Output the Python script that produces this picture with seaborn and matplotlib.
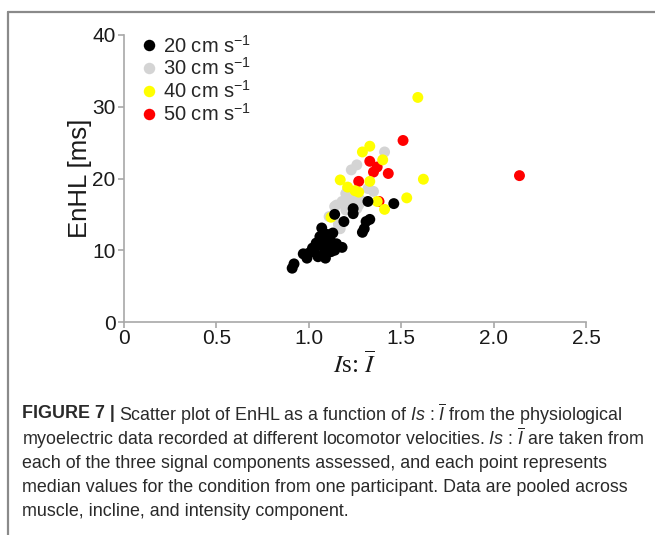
import matplotlib
matplotlib.use("Agg")
import numpy as np
import pandas as pd
import seaborn as sns
import matplotlib.pyplot as plt
from matplotlib.lines import Line2D

# Is:I ratio and EnHL (ms) per locomotor velocity
x20 = [0.91, 0.92, 0.97, 0.99, 1.00, 1.02, 1.03, 1.04, 1.05, 1.06, 1.07, 1.07,
       1.08, 1.09, 1.09, 1.10, 1.10, 1.11, 1.12, 1.12, 1.13, 1.14, 1.15, 1.16,
       1.18, 1.14, 1.19, 1.24, 1.24, 1.29, 1.30, 1.31, 1.33, 1.32, 1.46]
y20 = [7.5, 8.1, 9.5, 8.9, 9.6, 10.3, 9.8, 11.0, 9.1, 11.9, 13.1, 10.6,
       9.4, 8.9, 11.5, 10.3, 12.2, 11.0, 9.8, 11.2, 12.4, 10.0, 10.9, 10.5,
       10.4, 15.0, 14.0, 15.1, 15.8, 12.5, 13.0, 14.0, 14.3, 16.8, 16.5]

x30 = [1.11, 1.16, 1.17, 1.14, 1.15, 1.18, 1.20, 1.22, 1.24, 1.25, 1.26, 1.27,
       1.28, 1.26, 1.23, 1.26, 1.41, 1.32, 1.35, 1.20, 1.19, 1.21]
y30 = [14.7, 13.6, 13.0, 16.1, 16.3, 16.8, 17.9, 17.2, 17.2, 16.8, 15.8, 16.3,
       17.0, 17.9, 21.2, 21.9, 23.7, 18.6, 18.2, 15.6, 16.5, 18.4]

x40 = [1.59, 1.62, 1.53, 1.41, 1.37, 1.33, 1.29, 1.40, 1.17, 1.21, 1.25, 1.33,
       1.12, 1.27]
y40 = [31.3, 19.9, 17.3, 15.7, 16.8, 24.5, 23.7, 22.6, 19.8, 18.8, 18.3, 19.6,
       14.6, 18.1]

x50 = [1.51, 2.14, 1.43, 1.33, 1.37, 1.35, 1.27, 1.38]
y50 = [25.3, 20.4, 20.7, 22.4, 21.6, 20.9, 19.6, 16.8]

speed_labels = ["20 cm s$^{-1}$", "30 cm s$^{-1}$", "40 cm s$^{-1}$", "50 cm s$^{-1}$"]
speed_colors = ["#000000", "#d4d4d4", "#ffff00", "#ff0000"]

x_ticks = [0, 0.5, 1.0, 1.5, 2.0, 2.5]
x_ticklabels = ["0", "0.5", "1.0", "1.5", "2.0", "2.5"]
y_ticks = [0, 10, 20, 30, 40]

caption_lines = [
    r"Scatter plot of EnHL as a function of $\mathit{Is}$ : $\overline{\mathit{I}}$ from the physiological",
    r"myoelectric data recorded at different locomotor velocities. $\mathit{Is}$ : $\overline{\mathit{I}}$ are taken from",
    "each of the three signal components assessed, and each point represents",
    "median values for the condition from one participant. Data are pooled across",
    "muscle, incline, and intensity component.",
]

sns.set_style("ticks")
plt.rcParams["font.family"] = ["Liberation Sans", "DejaVu Sans"]
plt.rcParams.update({
    "mathtext.fontset": "custom",
    "mathtext.rm": "Liberation Sans",
    "mathtext.it": "Liberation Sans:italic",
    "mathtext.bf": "Liberation Sans:bold",
})

# long-format table, drawing order chosen so black sits on top
frames = []
for xs, ys, lab in [(x30, y30, speed_labels[1]), (x50, y50, speed_labels[3]),
                    (x40, y40, speed_labels[2]), (x20, y20, speed_labels[0])]:
    frames.append(pd.DataFrame({"ratio": xs, "enhl": ys, "speed": lab}))
df = pd.concat(frames, ignore_index=True)

W, H = 655, 535
fig = plt.figure(figsize=(W / 100, H / 100), dpi=100)
ax = fig.add_axes([124 / W, 1 - 322 / H, 462 / W, 287 / H])

sns.scatterplot(data=df, x="ratio", y="enhl", hue="speed", hue_order=speed_labels,
                palette=speed_colors, s=62, linewidth=0, ax=ax)

ax.set_xlim(0, 2.5)
ax.set_ylim(0, 40)
ax.set_xticks(x_ticks)
ax.set_xticklabels(x_ticklabels)
ax.set_yticks(y_ticks)

spine_col = "#a8a8a8"
for side in ["top", "right"]:
    ax.spines[side].set_visible(False)
for side in ["left", "bottom"]:
    ax.spines[side].set_color(spine_col)
    ax.spines[side].set_linewidth(1.2)
ax.tick_params(axis="both", direction="out", length=4, width=1.2, color=spine_col,
               labelsize=15, labelcolor="#1a1a1a", pad=2)
ax.tick_params(axis="x", pad=1)

ax.set_ylabel("EnHL [ms]", fontsize=18.5, color="#1a1a1a", labelpad=0)
ax.set_xlabel(r"$I$s: $\overline{I}$", fontsize=18, color="#1a1a1a",
              fontfamily="Liberation Serif", math_fontfamily="stix", labelpad=2)

sns.move_legend(ax, "upper left", bbox_to_anchor=(0.022, 1.03), frameon=False,
                title=None, fontsize=14.5, handlelength=0.7, handletextpad=0.35,
                labelspacing=0.05, borderaxespad=0.0, markerscale=1.05)

# outer frame of the figure panel
frame_col = "#8a8a8a"
fig.add_artist(Line2D([8 / W, 1.0], [1 - 12 / H, 1 - 12 / H], color=frame_col,
                      lw=1.6, transform=fig.transFigure))
fig.add_artist(Line2D([8 / W, 8 / W], [0.0, 1 - 12 / H], color=frame_col,
                      lw=1.6, transform=fig.transFigure))

# caption
cap_col = "#2a2a2a"
cap_size = 12.9
line_y = [414, 438.5, 463, 487.5, 512]
head = fig.text(22 / W, 1 - line_y[0] / H, "FIGURE 7 |", fontsize=cap_size,
                fontweight="bold", color=cap_col, va="center", ha="left")
ax.annotate(caption_lines[0], xy=(1, 0.5), xycoords=head, xytext=(3, 0),
            textcoords="offset points", fontsize=cap_size, color=cap_col,
            va="center", ha="left", annotation_clip=False)
for txt, yy in zip(caption_lines[1:], line_y[1:]):
    fig.text(22 / W, 1 - yy / H, txt, fontsize=cap_size, color=cap_col,
             va="center", ha="left")

fig.savefig("out.png", dpi=100)
